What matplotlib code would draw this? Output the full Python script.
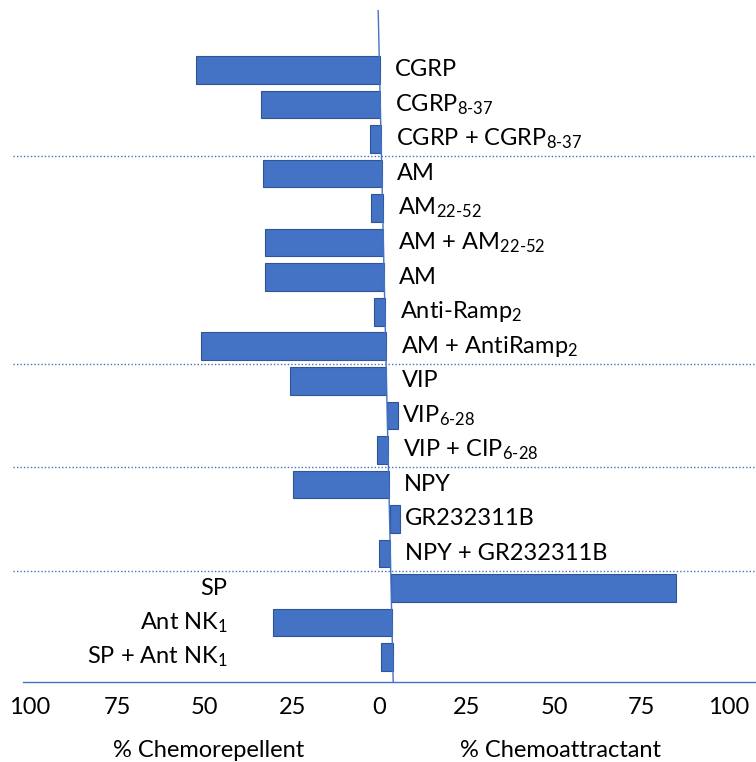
import numpy as np
import matplotlib.pyplot as plt

plt.rcParams['font.family'] = ['Lato', 'DejaVu Sans']
plt.rcParams['mathtext.fontset'] = 'custom'
plt.rcParams['mathtext.rm'] = 'Lato'
plt.rcParams['mathtext.it'] = 'Lato'

# 데이터: 음수 = chemorepellent, 양수 = chemoattractant (%)
labels = [
    "CGRP", "CGRP$_{\\text{8-37}}$", "CGRP + CGRP$_{\\text{8-37}}$",
    "AM", "AM$_{\\text{22-52}}$", "AM + AM$_{\\text{22-52}}$",
    "AM", "Anti-Ramp$_{\\text{2}}$", "AM + AntiRamp$_{\\text{2}}$",
    "VIP", "VIP$_{\\text{6-28}}$", "VIP + CIP$_{\\text{6-28}}$",
    "NPY", "GR232311B", "NPY + GR232311B",
    "SP", "Ant NK$_{\\text{1}}$", "SP + Ant NK$_{\\text{1}}$",
]
values = [-52.5, -34, -3.3, -34, -3.2, -34, -34, -3.2, -52.8,
          -27.5, 3.2, -3.2, -27.3, 3, -3.2, 81.5, -34, -3.2]
group_breaks = [2.5, 8.5, 11.5, 14.5]
tick_vals = [-100, -75, -50, -25, 0, 25, 50, 75, 100]

BLUE = '#4472C4'
EDGE = '#2F5597'
FS = 17

n = len(values)
rows = np.arange(n)
y_top, y_bot = -1.74, n - 1 + 0.72

# 원본 그림의 0 기준선이 살짝 기울어져 있음 (위 -0.4 -> 아래 +3.9)
lean_top, lean_bot = -0.4, 3.9
def lean(y):
    return lean_top + (lean_bot - lean_top) * (y - y_top) / (y_bot - y_top)

fig = plt.figure(figsize=(7.56, 7.62), dpi=100)
ax = fig.add_axes([0.0, 0.105, 1.0, 0.882])

base = lean(rows)
ax.barh(rows, values, left=base, height=0.8, color=BLUE,
        edgecolor=EDGE, linewidth=0.8, zorder=3)
ax.plot([lean_top, lean_bot], [y_top, y_bot], color=BLUE, lw=1.0, zorder=4)

for yb in group_breaks:
    ax.plot([-105, 110], [yb, yb], color=BLUE, lw=1.0, ls=(0, (1, 1.5)), zorder=1)

for i, lab in enumerate(labels):
    if i < 15:
        ax.text(base[i] + 4.3, i, lab, ha='left', va='center', fontsize=FS)
    else:
        ax.text(-43.5, i, lab, ha='right', va='center', fontsize=FS)

ax.set_xlim(-108.6, 107.7)
ax.set_ylim(y_bot, y_top)
ax.set_yticks([])
ax.set_xticks(tick_vals)
ax.set_xticklabels([str(abs(t)) for t in tick_vals])
ax.tick_params(axis='x', length=0, pad=11, labelsize=FS)
for s in ['top', 'right', 'left']:
    ax.spines[s].set_visible(False)
ax.spines['bottom'].set_color(BLUE)
ax.spines['bottom'].set_linewidth(1.0)
ax.spines['bottom'].set_bounds(-102, 107.7)

fig.text(0.276, 0.015, "% Chemorepellent", ha='center', va='center', fontsize=FS)
fig.text(0.742, 0.015, "% Chemoattractant", ha='center', va='center', fontsize=FS)

fig.savefig('out.png', dpi=100)
